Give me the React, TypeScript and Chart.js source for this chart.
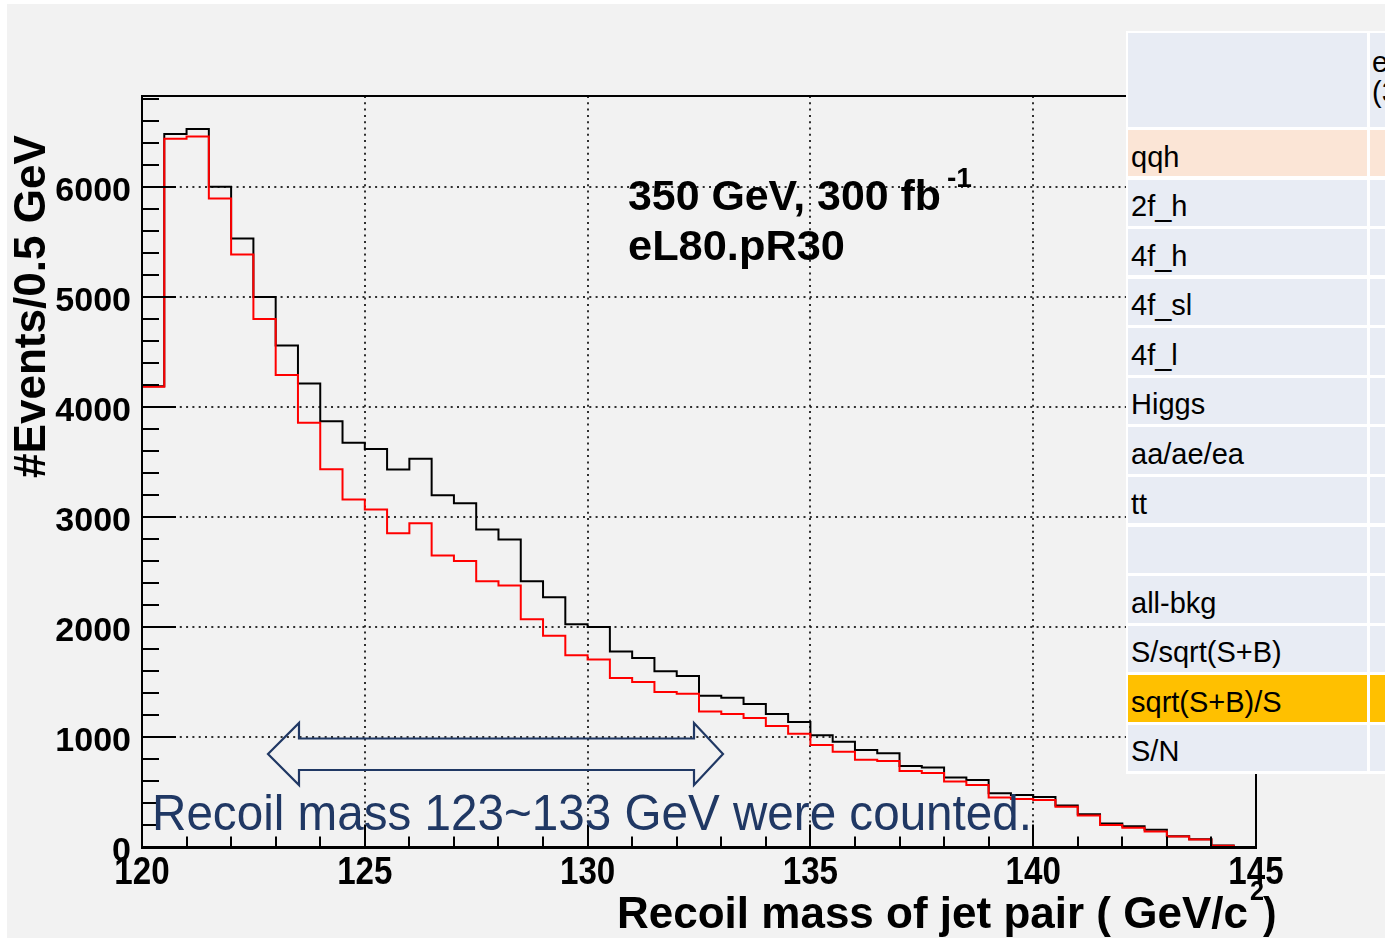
import React, { useEffect, useRef } from 'react';
import { Chart, registerables } from 'chart.js';

Chart.register(...registerables);

// ---------- data ----------
const BIN_EDGES = [
  120, 120.5, 121, 121.5, 122, 122.5, 123, 123.5, 124, 124.5,
  125, 125.5, 126, 126.5, 127, 127.5, 128, 128.5, 129, 129.5,
  130, 130.5, 131, 131.5, 132, 132.5, 133, 133.5, 134, 134.5,
  135, 135.5, 136, 136.5, 137, 137.5, 138, 138.5, 139, 139.5,
  140, 140.5, 141, 141.5, 142, 142.5, 143, 143.5, 144, 144.5, 145,
];

// black histogram (events / 0.5 GeV)
const TOTAL = [
  4190, 6480, 6525, 6000, 5530, 5000, 4560, 4215, 3872, 3675,
  3618, 3433, 3530, 3200, 3127, 2888, 2797, 2418, 2273, 2027,
  2002, 1779, 1721, 1600, 1557, 1379, 1361, 1303, 1212, 1139,
  1020, 960, 885, 855, 740, 726, 635, 613, 492, 476,
  458, 382, 303, 217, 192, 162, 102, 75, 18, 5,
];

// red histogram (events / 0.5 GeV)
const RED = [
  4185, 6436, 6458, 5894, 5385, 4800, 4291, 3857, 3436, 3161,
  3070, 2855, 2945, 2652, 2603, 2418, 2379, 2073, 1924, 1745,
  1708, 1539, 1503, 1412, 1397, 1236, 1212, 1176, 1103, 1033,
  930, 870, 797, 785, 695, 676, 600, 567, 453, 440,
  431, 370, 290, 204, 180, 146, 100, 72, 15, 4,
];

const X_TICK_LABELS = ['120', '125', '130', '135', '140', '145'];
const Y_TICK_LABELS = ['0', '1000', '2000', '3000', '4000', '5000', '6000'];

const X_MIN = 120;
const X_MAX = 145;
const Y_MAX = 6825;

const TABLE_HEADER = ['eL80.pR30', '(350 GeV)'];
const TABLE_ROWS = [
  'qqh', '2f_h', '4f_h', '4f_sl', '4f_l', 'Higgs', 'aa/ae/ea', 'tt', '',
  'all-bkg', 'S/sqrt(S+B)', 'sqrt(S+B)/S', 'S/N',
];

const FONT = "'Liberation Sans', Arial, Helvetica, sans-serif";

// ---------- helpers ----------
function drawScaled(ctx: CanvasRenderingContext2D, text: string, x: number, y: number, font: string, sx: number, align: 'left' | 'center' | 'right', color = '#000') {
  ctx.save();
  ctx.font = font;
  ctx.fillStyle = color;
  ctx.textBaseline = 'alphabetic';
  ctx.textAlign = 'left';
  const w = ctx.measureText(text).width * sx;
  let x0 = x;
  if (align === 'center') x0 = x - w / 2;
  if (align === 'right') x0 = x - w;
  ctx.translate(x0, y);
  ctx.scale(sx, 1);
  ctx.fillText(text, 0, 0);
  ctx.restore();
}

function drawFit(ctx: CanvasRenderingContext2D, text: string, x: number, y: number, width: number, font: string, color = '#000') {
  ctx.save();
  ctx.font = font;
  const w = ctx.measureText(text).width;
  ctx.restore();
  drawScaled(ctx, text, x, y, font, width / w, 'left', color);
}

const toSteps = (vals: number[]) => {
  const pts = vals.map((v, i) => ({ x: BIN_EDGES[i], y: v }));
  pts.push({ x: BIN_EDGES[vals.length], y: vals[vals.length - 1] });
  return pts;
};

const rootPlugin = {
  id: 'rootStyle',
  afterDatasetsDraw(chart: any) {
    const { ctx, chartArea: a, scales } = chart;
    const x = scales.x;
    const y = scales.y;
    ctx.save();
    ctx.strokeStyle = '#000';
    ctx.lineWidth = 2;
    // y ticks (inward), minor every 200, major every 1000
    for (let v = 0; v <= Y_MAX; v += 200) {
      const py = Math.round(y.getPixelForValue(v));
      const len = v % 1000 === 0 ? 34 : 17;
      ctx.beginPath();
      ctx.moveTo(a.left, py);
      ctx.lineTo(a.left + len, py);
      ctx.stroke();
    }
    // x ticks (inward), minor every 1, major every 5
    for (let v = X_MIN; v <= X_MAX; v += 1) {
      const px = Math.round(x.getPixelForValue(v));
      const len = v % 5 === 0 ? 23 : 11;
      ctx.beginPath();
      ctx.moveTo(px, a.bottom);
      ctx.lineTo(px, a.bottom - len);
      ctx.stroke();
    }
    // frame
    ctx.lineWidth = 2;
    ctx.strokeRect(a.left, a.top, a.right - a.left, a.bottom - a.top);
    ctx.lineWidth = 3;
    ctx.beginPath();
    ctx.moveTo(a.left - 1, a.bottom);
    ctx.lineTo(a.right + 1, a.bottom);
    ctx.stroke();
    ctx.restore();
  },
  afterDraw(chart: any) {
    const { ctx, scales } = chart;
    const x = scales.x;
    const y = scales.y;
    // tick labels
    y.ticks.forEach((t: any, i: number) => {
      const py = y.getPixelForValue(t.value);
      drawScaled(ctx, Y_TICK_LABELS[i], 131, py + 13.8, `bold 34px ${FONT}`, 1, 'right');
    });
    x.ticks.forEach((t: any, i: number) => {
      const px = x.getPixelForValue(t.value);
      drawScaled(ctx, X_TICK_LABELS[i], px, 884, `bold 39px ${FONT}`, 0.85, 'center');
    });

    // axis titles
    ctx.save();
    ctx.translate(45, 478);
    ctx.rotate(-Math.PI / 2);
    drawFit(ctx, '#Events/0.5 GeV', 0, 0, 343, `bold 44px ${FONT}`);
    ctx.restore();

    drawFit(ctx, 'Recoil mass of jet pair ( GeV/c', 617, 928, 631, `bold 45px ${FONT}`);
    drawScaled(ctx, '2', 1250, 900, `bold 28px ${FONT}`, 0.9, 'left');
    drawScaled(ctx, ')', 1263, 928, `bold 45px ${FONT}`, 0.9, 'left');

    // labels in the plot
    drawFit(ctx, '350 GeV, 300 fb', 628, 210, 313, `bold 43px ${FONT}`);
    drawFit(ctx, '-1', 947, 187, 25, `bold 27px ${FONT}`);
    drawFit(ctx, 'eL80.pR30', 628, 260, 217, `bold 43px ${FONT}`);

    // double arrow
    const navy = '#203864';
    ctx.save();
    ctx.strokeStyle = navy;
    ctx.lineWidth = 2.2;
    ctx.lineJoin = 'miter';
    ctx.beginPath();
    const pts = [
      [268, 754], [299, 723], [299, 738.5], [694, 738.5], [694, 723], [723, 754],
      [694, 785], [694, 770], [299, 770], [299, 785],
    ];
    pts.forEach((p, i) => (i === 0 ? ctx.moveTo(p[0], p[1]) : ctx.lineTo(p[0], p[1])));
    ctx.closePath();
    ctx.stroke();
    ctx.restore();

    drawFit(ctx, 'Recoil mass 123~133 GeV were counted.', 152, 830, 880, `50px ${FONT}`, navy);
  },
};

export default function App() {
  const canvasRef = useRef<HTMLCanvasElement | null>(null);

  useEffect(() => {
    const canvas = canvasRef.current;
    if (!canvas) return;
    const gridColor = (ctx: any, skip: number[]) =>
      skip.includes(ctx.tick?.value) ? 'rgba(0,0,0,0)' : 'rgba(25,25,25,0.9)';
    const chart = new Chart(canvas, {
      type: 'line',
      data: {
        datasets: [
          {
            label: 'red',
            data: toSteps(RED),
            stepped: 'before',
            borderColor: '#ff0000',
            borderWidth: 2,
            pointRadius: 0,
            fill: false,
          },
          {
            label: 'total',
            data: toSteps(TOTAL),
            stepped: 'before',
            borderColor: '#000000',
            borderWidth: 2,
            pointRadius: 0,
            fill: false,
          },
        ],
      },
      options: {
        responsive: false,
        animation: false,
        devicePixelRatio: 1,
        events: [],
        layout: { padding: { left: 142, right: 129, top: 96, bottom: 93.5 } },
        plugins: { legend: { display: false }, tooltip: { enabled: false }, title: { display: false } },
        scales: {
          x: {
            type: 'linear',
            min: X_MIN,
            max: X_MAX,
            bounds: 'data',
            ticks: { display: false, stepSize: 5 },
            grid: { color: (c: any) => gridColor(c, [X_MIN, X_MAX]), lineWidth: 2, drawTicks: false },
            border: { display: false, dash: [2, 4.3] },
            afterBuildTicks: (s: any) => {
              s.ticks = X_TICK_LABELS.map((l) => ({ value: Number(l) }));
              s.min = X_MIN;
              s.max = X_MAX;
            },
            afterFit: (s: any) => { s.height = 0; },
          },
          y: {
            type: 'linear',
            min: 0,
            max: Y_MAX,
            bounds: 'data',
            ticks: { display: false, stepSize: 1000, includeBounds: false },
            grid: { color: (c: any) => gridColor(c, [0]), lineWidth: 2, drawTicks: false },
            border: { display: false, dash: [2, 4.3] },
            afterBuildTicks: (s: any) => {
              s.ticks = Y_TICK_LABELS.map((l) => ({ value: Number(l) }));
              s.min = 0;
              s.max = Y_MAX;
            },
            afterFit: (s: any) => { s.width = 0; },
          },
        },
      } as any,
      plugins: [rootPlugin],
    });
    return () => chart.destroy();
  }, []);

  const rowPitch = 49.58;
  const cellBg = '#e8ecf4';

  return (
    <div style={{ position: 'absolute', left: 0, top: 0, width: 1385, height: 941, overflow: 'hidden', background: '#ffffff' }}>
      <div style={{ position: 'absolute', left: 7, top: 4, width: 1378, height: 934, background: '#f2f2f2' }} />
      <canvas ref={canvasRef} width={1385} height={941} style={{ position: 'absolute', left: 0, top: 0, width: 1385, height: 941 }} />
      <div style={{ position: 'absolute', left: 1126, top: 31, width: 300, height: 743, background: '#ffffff', fontFamily: FONT, fontSize: 29, color: '#000' }}>
        <div style={{ position: 'absolute', left: 2, top: 2.3, width: 239, height: 93.4, background: cellBg }} />
        <div style={{ position: 'absolute', left: 244, top: 2.3, width: 120, height: 93.4, background: cellBg, whiteSpace: 'nowrap' }}>
          <span style={{ position: 'absolute', left: 2, top: 12, lineHeight: '34px' }}>{TABLE_HEADER[0]}</span>
          <span style={{ position: 'absolute', left: 2, top: 42, lineHeight: '34px' }}>{TABLE_HEADER[1]}</span>
        </div>
        {TABLE_ROWS.map((name, i) => {
          const bg = name === 'qqh' ? '#fbe5d6' : name === 'sqrt(S+B)/S' ? '#ffc000' : cellBg;
          const top = 99 + rowPitch * i;
          return (
            <React.Fragment key={i}>
              <div style={{ position: 'absolute', left: 2, top, width: 239, height: 46.3, background: bg, whiteSpace: 'nowrap' }}>
                <span style={{ position: 'absolute', left: 3, top: 9.5, lineHeight: '34px' }}>{name}</span>
              </div>
              <div style={{ position: 'absolute', left: 244, top, width: 120, height: 46.3, background: bg }} />
            </React.Fragment>
          );
        })}
      </div>
    </div>
  );
}
